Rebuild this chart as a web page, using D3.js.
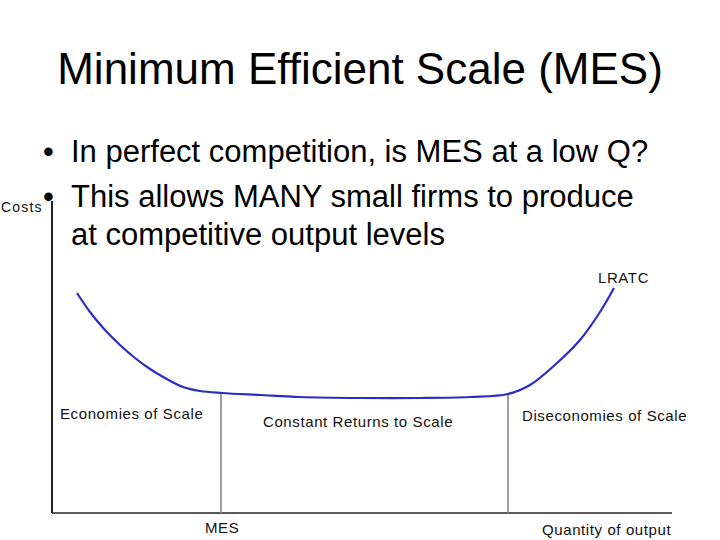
<!DOCTYPE html>
<html>
<head>
<meta charset="utf-8">
<script src="https://cdn.jsdelivr.net/npm/d3@7"></script>
<style>
  html, body { margin: 0; padding: 0; background: #fff; }
  svg { display: block; font-family: "Liberation Sans", Arial, sans-serif; }
</style>
</head>
<body>
<div id="chart"></div>
<script>
// values (quantity / cost in plot units, origin at the axes corner)
const lratcQ = [25, 38, 53, 68, 83, 98, 113, 131, 148, 170, 208, 248, 308, 368, 418, 456, 478, 505, 528, 548, 562];
const lratcC = [220, 201, 183, 168, 155, 144, 135, 126, 122, 120, 118, 116, 115, 115, 116, 119, 128, 150, 173, 201, 225];
const dividerQ = [169, 456];          // MES and end of constant returns
const regionLabels = ["Economies of Scale", "Constant Returns to Scale", "Diseconomies of Scale"];
const bullets = [
  ["In perfect competition, is MES at a low Q?"],
  ["This allows MANY small firms to produce", "at competitive output levels"]
];

const width = 720, height = 540;
const margin = { left: 52, bottom: 27 };

const svg = d3.select("#chart").append("svg")
  .attr("width", width).attr("height", height);

const x = d3.scaleLinear().domain([0, 620]).range([margin.left, margin.left + 620]);
const y = d3.scaleLinear().domain([0, 318]).range([height - margin.bottom, height - margin.bottom - 318]);

// title
svg.append("text")
  .attr("x", 360).attr("y", 84)
  .attr("text-anchor", "middle")
  .attr("font-size", 44)
  .attr("fill", "#000")
  .text("Minimum Efficient Scale (MES)");

// axes (plain lines, no ticks)
svg.append("line")
  .attr("x1", x(0)).attr("x2", x(0))
  .attr("y1", y(312)).attr("y2", y(0))
  .attr("stroke", "#222").attr("stroke-width", 2);
svg.append("line")
  .attr("x1", x(0)).attr("x2", x(620))
  .attr("y1", y(0)).attr("y2", y(0))
  .attr("stroke", "#222").attr("stroke-width", 1.6);

// dividers
const pts = lratcQ.map((q, i) => [q, lratcC[i]]);
const interpC = q => {
  for (let i = 1; i < pts.length; i++) {
    if (q <= pts[i][0]) {
      const t = (q - pts[i - 1][0]) / (pts[i][0] - pts[i - 1][0]);
      return pts[i - 1][1] + t * (pts[i][1] - pts[i - 1][1]);
    }
  }
  return pts[pts.length - 1][1];
};
svg.selectAll(".divider").data(dividerQ).join("line")
  .attr("class", "divider")
  .attr("x1", d => x(d)).attr("x2", d => x(d))
  .attr("y1", d => y(interpC(d))).attr("y2", y(0))
  .attr("stroke", "#888").attr("stroke-width", 1.6);

// LRATC curve
const line = d3.line()
  .x(d => x(d[0])).y(d => y(d[1]))
  .curve(d3.curveCatmullRom.alpha(0.5));
svg.append("path")
  .datum(pts)
  .attr("d", line)
  .attr("fill", "none")
  .attr("stroke", "#2a2dc6")
  .attr("stroke-width", 2.2);

// small diagram labels
const small = (tx, ty, txt, anchor = "start") => svg.append("text")
  .attr("x", tx).attr("y", ty)
  .attr("text-anchor", anchor)
  .attr("font-size", 15)
  .attr("letter-spacing", 0.6)
  .attr("fill", "#111")
  .text(txt);

small(1, 212, "Costs").attr("font-size", 14).attr("letter-spacing", 1.2);
small(598, 283, "LRATC");
small(60, 419, regionLabels[0]);
small(263, 427, regionLabels[1]);
small(522, 421, regionLabels[2]);
small(205, 533, "MES");
small(542, 535, "Quantity of output");

// bullets
const bulletG = svg.append("g");
let lineY = 162;
const lineGap = [45, 38];
bullets.forEach((b, bi) => {
  bulletG.append("text")
    .attr("x", 43).attr("y", lineY)
    .attr("font-size", 31)
    .text("•");
  b.forEach((txt, li) => {
    bulletG.append("text")
      .attr("x", 71).attr("y", lineY)
      .attr("font-size", 31)
      .attr("fill", "#000")
      .text(txt);
    lineY += li === 0 && b.length > 1 ? lineGap[1] : lineGap[0];
  });
});
</script>
</body>
</html>
